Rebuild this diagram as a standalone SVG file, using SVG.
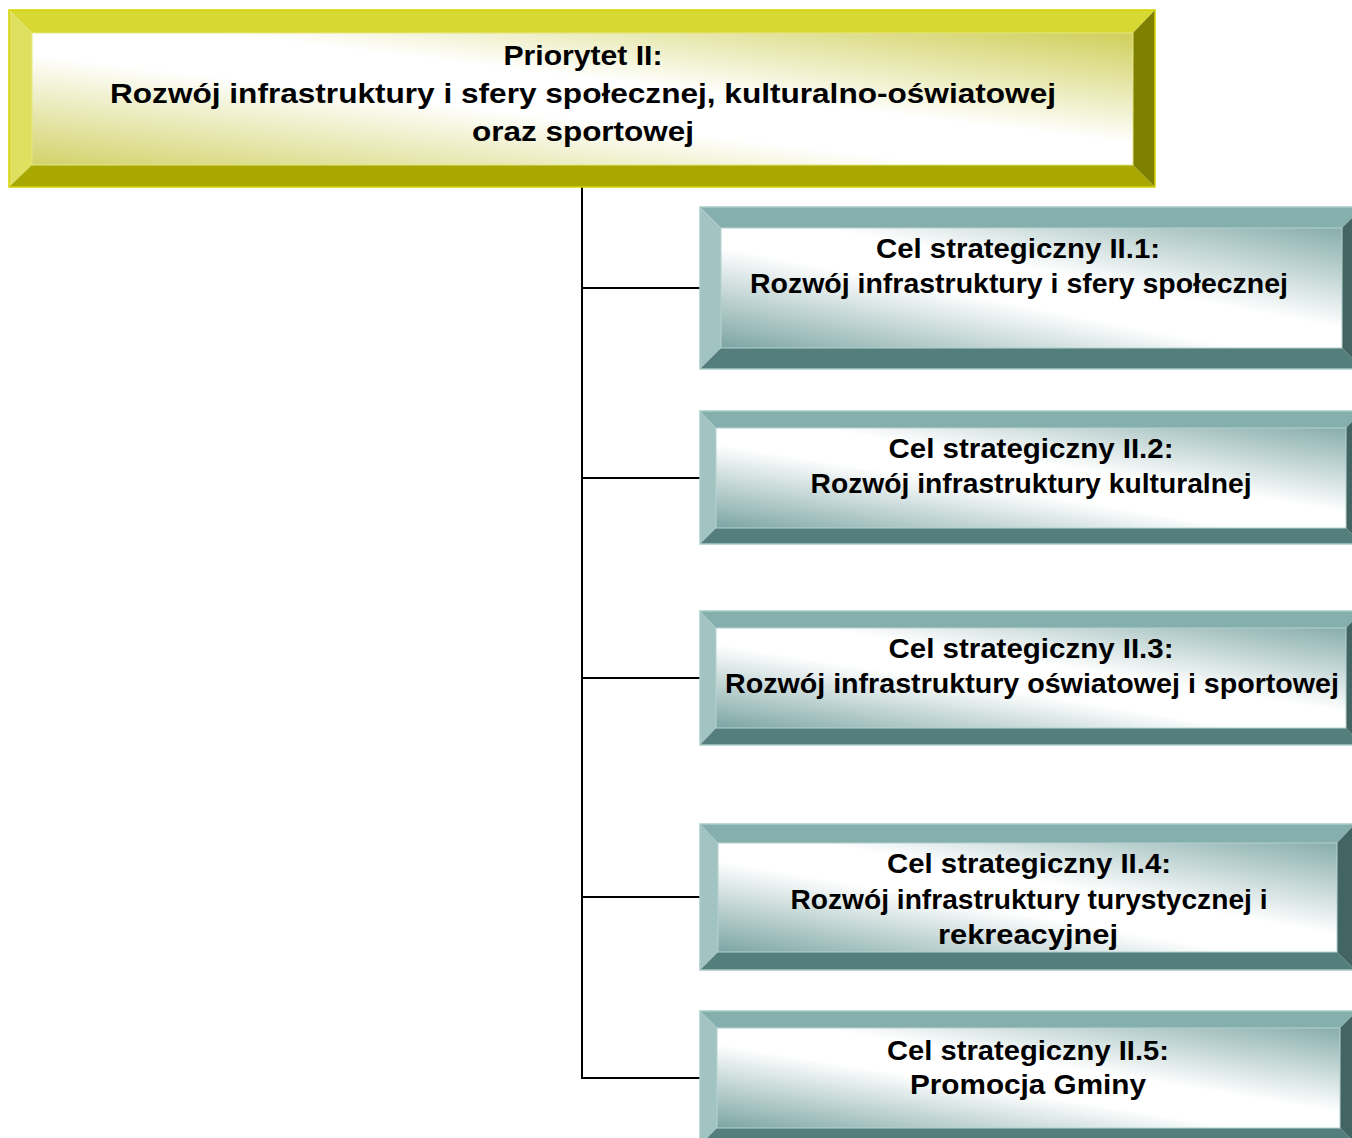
<svg xmlns="http://www.w3.org/2000/svg" width="1352" height="1138" viewBox="0 0 1352 1138">
<defs>
<linearGradient id="gy" x1="1" y1="0" x2="0" y2="1">
<stop offset="0" stop-color="#CFCF5A"/>
<stop offset="0.42" stop-color="#FFFFFF"/>
<stop offset="0.58" stop-color="#FFFFFF"/>
<stop offset="1" stop-color="#D2D26A"/>
</linearGradient>
<linearGradient id="gt" x1="1" y1="0" x2="0" y2="1">
<stop offset="0" stop-color="#86ADAB"/>
<stop offset="0.42" stop-color="#FFFFFF"/>
<stop offset="0.58" stop-color="#FFFFFF"/>
<stop offset="1" stop-color="#7BA5A3"/>
</linearGradient>
</defs>
<style>
.t{font-family:"Liberation Sans",Arial,sans-serif;font-weight:bold;font-size:28px;fill:#000;text-anchor:middle}
.yt{fill:#D8D832}.yl{fill:#E0E060}.yb{fill:#A8A800}.yr{fill:#7F7F00}
.yo{fill:none;stroke:#D4D400;stroke-width:1.5}
.tt{fill:#84AFAD}.tl{fill:#A1C3C1}.tb{fill:#537E7C}.tr{fill:#426462}
.to{fill:none;stroke:#A9CBC9;stroke-width:1.5}
.yi{fill:url(#gy);stroke:#E6E680;stroke-width:1}
.ti{fill:url(#gt);stroke:#B5D2D0;stroke-width:1}
.c{stroke:#000;stroke-width:2;fill:none}
</style>
<rect width="1352" height="1138" fill="#FFFFFF"/>
<g id="connectors">
<line class="c" x1="582" y1="187" x2="582" y2="1079"/>
<line class="c" x1="581" y1="288" x2="700" y2="288"/>
<line class="c" x1="581" y1="478" x2="700" y2="478"/>
<line class="c" x1="581" y1="678" x2="700" y2="678"/>
<line class="c" x1="581" y1="897" x2="700" y2="897"/>
<line class="c" x1="581" y1="1078" x2="700" y2="1078"/>
</g>
<g id="priorytet">
<polygon class="yt" points="9,10 1155,10 1133,33 32,33"/>
<polygon class="yl" points="9,10 32,33 32,165 9,187"/>
<polygon class="yb" points="9,187 32,165 1133,165 1155,187"/>
<polygon class="yr" points="1155,10 1155,187 1133,165 1133,33"/>
<rect class="yi" x="32" y="33" width="1101" height="132"/>
<rect class="yo" x="9" y="10" width="1146" height="177"/>
<text class="t" x="583" y="65" textLength="159" lengthAdjust="spacingAndGlyphs">Priorytet II:</text>
<text class="t" x="583" y="103" textLength="946" lengthAdjust="spacingAndGlyphs">Rozwój infrastruktury i sfery społecznej, kulturalno-oświatowej</text>
<text class="t" x="583" y="141" textLength="222" lengthAdjust="spacingAndGlyphs">oraz sportowej</text>
</g>
<g id="cel1">
<polygon class="tt" points="700,207 1363,207 1342,228 721,228"/>
<polygon class="tl" points="700,207 721,228 721,348 700,369"/>
<polygon class="tb" points="700,369 721,348 1342,348 1363,369"/>
<polygon class="tr" points="1363,207 1363,369 1342,348 1342,228"/>
<rect class="ti" x="721" y="228" width="621" height="120"/>
<rect class="to" x="700" y="207" width="663" height="162"/>
<text class="t" x="1018" y="258" textLength="284" lengthAdjust="spacingAndGlyphs">Cel strategiczny II.1:</text>
<text class="t" x="1019" y="293" textLength="538" lengthAdjust="spacingAndGlyphs">Rozwój infrastruktury i sfery społecznej</text>
</g>
<g id="cel2">
<polygon class="tt" points="700,411 1362,411 1346,428 716,428"/>
<polygon class="tl" points="700,411 716,428 716,528 700,544"/>
<polygon class="tb" points="700,544 716,528 1346,528 1362,544"/>
<polygon class="tr" points="1362,411 1362,544 1346,528 1346,428"/>
<rect class="ti" x="716" y="428" width="630" height="100"/>
<rect class="to" x="700" y="411" width="662" height="133"/>
<text class="t" x="1031" y="458" textLength="285" lengthAdjust="spacingAndGlyphs">Cel strategiczny II.2:</text>
<text class="t" x="1031" y="493" textLength="441" lengthAdjust="spacingAndGlyphs">Rozwój infrastruktury kulturalnej</text>
</g>
<g id="cel3">
<polygon class="tt" points="700,611 1362,611 1346,628 716,628"/>
<polygon class="tl" points="700,611 716,628 716,728 700,745"/>
<polygon class="tb" points="700,745 716,728 1346,728 1362,745"/>
<polygon class="tr" points="1362,611 1362,745 1346,728 1346,628"/>
<rect class="ti" x="716" y="628" width="630" height="100"/>
<rect class="to" x="700" y="611" width="662" height="134"/>
<text class="t" x="1031" y="658" textLength="285" lengthAdjust="spacingAndGlyphs">Cel strategiczny II.3:</text>
<text class="t" x="1032" y="693" textLength="614" lengthAdjust="spacingAndGlyphs">Rozwój infrastruktury oświatowej i sportowej</text>
</g>
<g id="cel4">
<polygon class="tt" points="700,824 1355,824 1337,843 718,843"/>
<polygon class="tl" points="700,824 718,843 718,952 700,970"/>
<polygon class="tb" points="700,970 718,952 1337,952 1355,970"/>
<polygon class="tr" points="1355,824 1355,970 1337,952 1337,843"/>
<rect class="ti" x="718" y="843" width="619" height="109"/>
<rect class="to" x="700" y="824" width="655" height="146"/>
<text class="t" x="1029" y="873" textLength="284" lengthAdjust="spacingAndGlyphs">Cel strategiczny II.4:</text>
<text class="t" x="1029" y="909" textLength="477" lengthAdjust="spacingAndGlyphs">Rozwój infrastruktury turystycznej i</text>
<text class="t" x="1028" y="944" textLength="180" lengthAdjust="spacingAndGlyphs">rekreacyjnej</text>
</g>
<g id="cel5">
<polygon class="tt" points="700,1011 1357,1011 1340,1028 717,1028"/>
<polygon class="tl" points="700,1011 717,1028 717,1128 700,1145"/>
<polygon class="tb" points="700,1145 717,1128 1340,1128 1357,1145"/>
<polygon class="tr" points="1357,1011 1357,1145 1340,1128 1340,1028"/>
<rect class="ti" x="717" y="1028" width="623" height="100"/>
<rect class="to" x="700" y="1011" width="657" height="134"/>
<text class="t" x="1028" y="1060" textLength="282" lengthAdjust="spacingAndGlyphs">Cel strategiczny II.5:</text>
<text class="t" x="1028" y="1094" textLength="236" lengthAdjust="spacingAndGlyphs">Promocja Gminy</text>
</g>
</svg>
